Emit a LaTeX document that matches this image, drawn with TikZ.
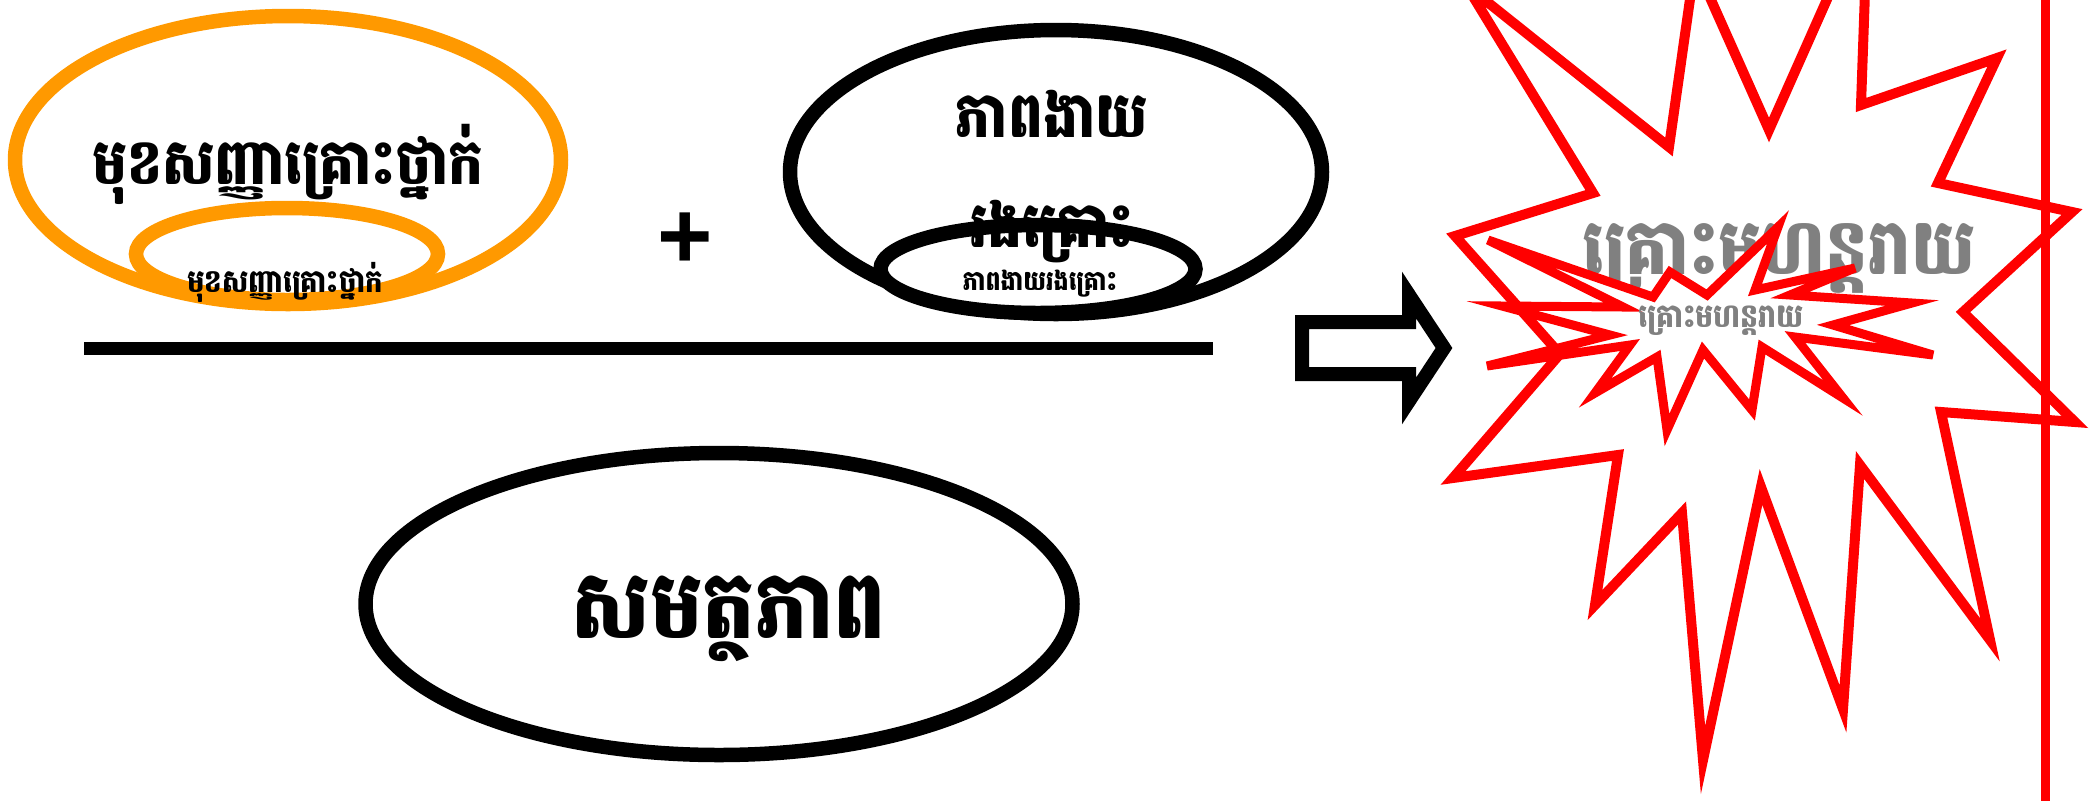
\documentclass[tikz,border=0pt]{standalone}
\usepackage{fontspec}
\newfontfamily\khmer[Script=Khmer, FakeStretch=0.87]{Battambang}
\newfontfamily\plusfont{Liberation Sans}
\usepackage{xcolor}
\usepackage{tikz}
\usetikzlibrary{shapes,arrows,positioning}
\definecolor{hazardorange}{RGB}{255,153,0}
\definecolor{disasterred}{RGB}{255,0,0}
\definecolor{disastergray}{RGB}{128,128,128}

\begin{document}
\begin{tikzpicture}[x=0.1mm, y=-0.1mm]
    \tikzstyle{oval} = [ellipse, draw, line width=1.45mm, fill=white, inner sep=0pt]
    \tikzstyle{bigtext} = [font=\khmer\bfseries\fontsize{18}{31.3}\selectfont, align=center, inner sep=0pt, anchor=base]
    \tikzstyle{smalltext} = [font=\khmer\bfseries\fontsize{9}{11}\selectfont, inner sep=0pt, anchor=base]
    \tikzstyle{burst} = [draw=disasterred, fill=white, line width=1mm]
    \tikzstyle{implies} = [draw, line width=1.4mm]

    \useasboundingbox (0,0) rectangle (2093,801);
    \clip (0,0) rectangle (2093,801);

    % Hazard
    \node [oval, draw=hazardorange, minimum width=54.6mm, minimum height=28.8mm] (hazard) at (288,160) {};
    \node [oval, draw=hazardorange, minimum width=30.2mm, minimum height=9.2mm] (hazardsm) at (287,254) {};
    \node [bigtext] (hazardtxt) at (288,184) {មុខសញ្ញាគ្រោះថ្នាក់};
    \node [smalltext] (hazardsmtxt) at (285,292) {មុខសញ្ញាគ្រោះថ្នាក់};

    % Plus
    \node [font=\plusfont\bfseries\fontsize{27}{27}\selectfont, inner sep=0pt] (plus) at (685,241) {+};

    % Vulnerability
    \node [oval, minimum width=53.2mm, minimum height=28.4mm] (vuln) at (1056,172) {};
    \node [oval, minimum width=31.5mm, minimum height=8.8mm] (vulnsm) at (1038,269) {};
    \node [bigtext] (vulntxt) at (1052,247) {ភាពងាយ\\រងគ្រោះ};
    \node [smalltext, font=\khmer\bfseries\fontsize{7.8}{9}\selectfont] (vulnsmtxt) at (1040,290) {ភាពងាយរងគ្រោះ};

    % Fraction bar
    \coordinate (barleft) at (84,348);
    \coordinate (barright) at (1213,348);
    \draw [line width=1.3mm] (barleft) -- (barright);

    % Capacity
    \node [oval, minimum width=70.7mm, minimum height=30.2mm] (capacity) at (719,604) {};
    \node [bigtext, font=\khmer\bfseries\fontsize{27}{30}\selectfont] (capacitytxt) at (729,638) {សមត្ថភាព};

    % Implies
    \coordinate (impliestail) at (1302,348);
    \draw [implies] (impliestail) ++(0,-26) -- ++(107,0) -- ++(0,-27) -- ++(35,53)
        -- ++(-35,53) -- ++(0,-27) -- ++(-107,0) -- cycle;

    % Disaster
    \draw [burst] (1466,-15) -- (1669,147) -- (1695,-36) -- (1769,130) -- (1868,-93) -- (1861,105)
        -- (1997,58) -- (1938,183) -- (2072,212) -- (1963,312) -- (2075,422) -- (1941,412)
        -- (1990,640) -- (1860,465) -- (1843,709) -- (1761,487) -- (1703,760) -- (1682,513)
        -- (1595,605) -- (1618,455) -- (1453,478) -- (1560,354) -- (1455,236) -- (1593,193) -- cycle;
    \node [bigtext, text=disastergray, font=\khmer\bfseries\fontsize{22}{26}\selectfont] (disastertxt) at (1779,274) {គ្រោះមហន្តរាយ};
    \draw [burst, line width=0.9mm] (1488,240) -- (1653,297) -- (1670,272) -- (1707,295) -- (1778,227)
        -- (1755,290) -- (1855,268) -- (1790,295) -- (1912,303) -- (1833,325) -- (1933,355)
        -- (1795,337) -- (1843,398) -- (1762,347) -- (1752,410) -- (1703,350) -- (1667,430)
        -- (1657,357) -- (1595,393) -- (1630,345) -- (1487,366) -- (1610,335) -- (1502,306)
        -- (1623,307) -- cycle;
    \node [smalltext, text=disastergray, font=\khmer\bfseries\fontsize{9.3}{11}\selectfont] (disastersmtxt) at (1721,327) {គ្រោះមហន្តរាយ};

    % Edge line
    \coordinate (edgetop) at (2045,0);
    \coordinate (edgebottom) at (2045,801);
    \draw [disasterred, line width=0.9mm] (edgetop) -- (edgebottom);
\end{tikzpicture}
\end{document}
